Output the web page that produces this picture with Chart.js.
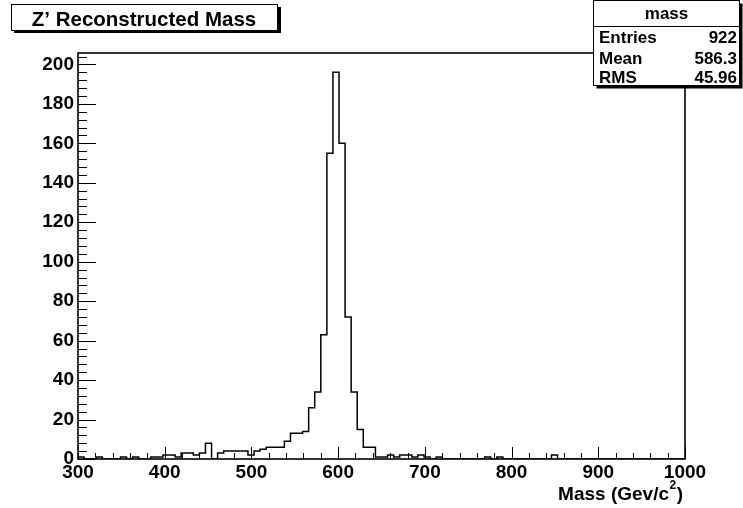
<!DOCTYPE html>
<html>
<head>
<meta charset="utf-8">
<script src="https://cdn.jsdelivr.net/npm/chart.js@4.4.1/dist/chart.umd.min.js"></script>
<style>
  html, body { margin: 0; padding: 0; background: #fff; }
  canvas { display: block; }
</style>
</head>
<body>
<canvas id="myChart" width="743" height="508"></canvas>
<script>
// histogram "mass": 100 bins from 300 to 1000
var xMin = 300, xMax = 1000, binWidth = 7;
var counts = [
  1, 0, 0, 1, 0, 0, 0, 1, 0, 1,
  0, 0, 1, 1, 2, 2, 1, 3, 3, 2,
  3, 8, 0, 3, 4, 4, 4, 4, 2, 4,
  5, 6, 6, 6, 9, 13, 13, 14, 26, 34,
  63, 155, 196, 160, 72, 34, 15, 6, 6, 1,
  1, 2, 1, 2, 2, 1, 2, 1, 0, 1,
  0, 0, 0, 0, 0, 0, 0, 1, 0, 1,
  0, 0, 0, 0, 0, 0, 0, 0, 2, 0,
  0, 0, 0, 0, 0, 0, 0, 0, 0, 0,
  0, 0, 0, 0, 0, 0, 0, 0, 0, 0
];
var yMax = 205.8;
var xTickStep = 100, yTickStep = 20;
var titleText = "Z\u2019 Reconstructed Mass";
var xTitle = ["Mass (Gev/c", "2", ")"];
var statName = "mass";
var statLabels = ["Entries", "Mean", "RMS"];
var statValues = ["922", "586.3", "45.96"];

var FONT = '"Liberation Sans", Arial, Helvetica, sans-serif';

// outline of the histogram: left edge of every bin, closed at both ends
var points = [{x: xMin, y: 0}];
counts.forEach(function(c, i){ points.push({x: xMin + i * binWidth, y: c}); });
points.push({x: xMax, y: 0});

var rootDecor = {
  id: 'rootDecor',
  beforeDraw: function(chart){
    var c = chart.ctx;
    c.save();
    c.fillStyle = '#fff';
    c.fillRect(0, 0, chart.width, chart.height);
    c.restore();
  },
  afterDatasetsDraw: function(chart){
    var c = chart.ctx, a = chart.chartArea;
    var xs = chart.scales.x, ys = chart.scales.y;
    c.save();
    c.strokeStyle = '#000';
    c.lineWidth = 1;
    c.beginPath();
    // y ticks, inward
    for (var v = 0; v <= yMax + 0.01; v += 4) {
      var py = Math.round(ys.getPixelForValue(v)) + 0.5;
      var len = (v % yTickStep === 0) ? 18 : 9;
      c.moveTo(a.left, py); c.lineTo(a.left + len, py);
    }
    // x ticks, inward
    for (var u = xMin; u <= xMax; u += 20) {
      var px = Math.round(xs.getPixelForValue(u)) + 0.5;
      var l2 = ((u - xMin) % xTickStep === 0) ? 12 : 6;
      c.moveTo(px, a.bottom); c.lineTo(px, a.bottom - l2);
    }
    c.stroke();
    c.lineWidth = 1.6;
    c.strokeRect(a.left, a.top, a.right - a.left, a.bottom - a.top);
    c.restore();
  },
  afterDraw: function(chart){
    var c = chart.ctx;
    c.save();
    c.fillStyle = '#000';
    c.strokeStyle = '#000';

    // title box with shadow
    c.fillRect(14, 7, 267, 26);
    c.fillStyle = '#fff';
    c.fillRect(11, 4, 266, 26);
    c.lineWidth = 1;
    c.strokeRect(11.5, 4.5, 266, 26);
    c.fillStyle = '#000';
    c.font = 'bold 20.5px ' + FONT;
    c.textAlign = 'center';
    c.textBaseline = 'alphabetic';
    c.fillText(titleText, 144, 26);

    // stats box
    var bx = 593.5, by = 0.5, bw = 146, bh = 85;
    c.fillRect(bx + 3, by + 3, bw, bh);
    c.fillStyle = '#fff';
    c.fillRect(bx, by, bw, bh);
    c.strokeRect(bx, by, bw, bh);
    c.beginPath();
    c.moveTo(bx, 26.5); c.lineTo(bx + bw, 26.5);
    c.stroke();
    c.fillStyle = '#000';
    c.font = 'bold 17px ' + FONT;
    c.textAlign = 'center';
    c.fillText(statName, bx + bw / 2, 19);
    var rowY = [42.5, 63.5, 83];
    statLabels.forEach(function(lab, i){
      c.textAlign = 'left';
      c.fillText(lab, 599, rowY[i]);
      c.textAlign = 'right';
      c.fillText(statValues[i], 737, rowY[i]);
    });

    // x axis title with superscript
    var xRight = chart.scales.x.getPixelForValue(xMax) - 2;
    c.textAlign = 'left';
    c.font = 'bold 19px ' + FONT;
    var w0 = c.measureText(xTitle[0]).width;
    var w2 = c.measureText(xTitle[2]).width;
    c.font = 'bold 12px ' + FONT;
    var w1 = c.measureText(xTitle[1]).width;
    var x0 = xRight - w0 - w1 - w2 - 1;
    c.font = 'bold 19px ' + FONT;
    c.fillText(xTitle[0], x0, 500);
    c.font = 'bold 12px ' + FONT;
    c.fillText(xTitle[1], x0 + w0 + 0.5, 489);
    c.font = 'bold 19px ' + FONT;
    c.fillText(xTitle[2], x0 + w0 + w1 + 1, 500);
    c.restore();
  }
};

var ctx = document.getElementById("myChart");
var myChart = new Chart(ctx, {
  type: 'line',
  data: {
    datasets: [{
      label: 'mass',
      data: points,
      stepped: true,
      borderColor: '#000',
      borderWidth: 1.5,
      pointRadius: 0,
      fill: false
    }]
  },
  options: {
    responsive: false,
    animation: false,
    devicePixelRatio: 1,
    layout: { padding: { left: 0, right: 58, top: 53, bottom: 0 } },
    plugins: { legend: { display: false }, tooltip: { enabled: false } },
    scales: {
      x: {
        type: 'linear', min: xMin, max: xMax,
        grid: { display: false, drawTicks: false },
        border: { display: false },
        afterFit: function(s){ s.height = 49; },
        ticks: {
          stepSize: xTickStep, autoSkip: false, maxRotation: 0, includeBounds: false,
          padding: 2, color: '#000',
          callback: function(v){ return String(v); },
          font: { family: FONT, size: 19, weight: 'bold' }
        }
      },
      y: {
        min: 0, max: yMax,
        grid: { display: false, drawTicks: false },
        border: { display: false },
        afterFit: function(s){ s.width = 78; },
        ticks: {
          stepSize: yTickStep, autoSkip: false, includeBounds: false,
          padding: 4, color: '#000',
          callback: function(v){ return String(v); },
          font: { family: FONT, size: 19, weight: 'bold' }
        }
      }
    }
  },
  plugins: [rootDecor]
});
</script>
</body>
</html>
